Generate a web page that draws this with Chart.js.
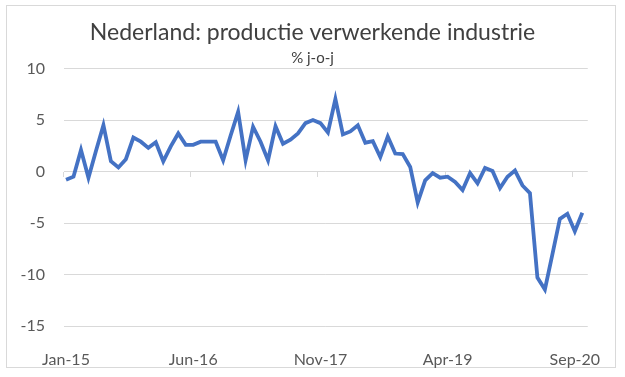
<!DOCTYPE html>
<html>
<head>
<meta charset="utf-8">
<script src="https://cdn.jsdelivr.net/npm/chart.js@4"></script>
<style>
  html, body { margin: 0; padding: 0; background: #fff; }
  #wrap { width: 625px; height: 377px; }
</style>
</head>
<body>
<div id="wrap"><canvas id="chart" width="625" height="377"></canvas></div>
<script>
// maanden jan-15 .. okt-20
const months = ['Jan','Feb','Mar','Apr','May','Jun','Jul','Aug','Sep','Oct','Nov','Dec'];
const labels = [];
for (let y = 15; y <= 20; y++) {
  for (let m = 0; m < 12; m++) {
    if (y === 20 && m > 9) break;
    labels.push(months[m] + '-' + y);
  }
}

// productie verwerkende industrie, % j-o-j
const values = [
  -0.8, -0.5, 2.1, -0.6, 2.0, 4.5, 1.0, 0.4, 1.2, 3.3,
  2.9, 2.3, 2.85, 1.0, 2.45, 3.7, 2.6, 2.6, 2.9, 2.9,
  2.9, 1.1, 3.5, 5.8, 1.1, 4.35, 2.9, 1.1, 4.4, 2.7,
  3.1, 3.7, 4.7, 5.0, 4.7, 3.8, 7.05, 3.6, 3.9, 4.5,
  2.8, 2.95, 1.4, 3.4, 1.75, 1.7, 0.45, -3.0, -0.85, -0.15,
  -0.6, -0.5, -1.0, -1.8, -0.15, -1.15, 0.35, 0.05, -1.6, -0.5,
  0.1, -1.35, -2.1, -10.3, -11.45, -8.05, -4.6, -4.1, -5.8, -4.0
];

const xTickIdx = [0, 17, 34, 51, 68];
const yTicks = [-15, -10, -5, 0, 5, 10];

const textColor = '#595959';
const fontFamily = 'Lato, "Open Sans", sans-serif';

// kader + kleine streepjes op de nul-as
const framePlugin = {
  id: 'frame',
  beforeDraw(chart) {
    const c = chart.ctx;
    c.save();
    c.fillStyle = '#fff';
    c.fillRect(0, 0, chart.width, chart.height);
    c.strokeStyle = '#d9d9d9';
    c.lineWidth = 1;
    c.strokeRect(6.5, 5.5, 609, 362);
    c.restore();
  },
  beforeDatasetsDraw(chart) {
    const c = chart.ctx, xs = chart.scales.x, ys = chart.scales.y;
    const y0 = Math.round(ys.getPixelForValue(0));
    c.save();
    c.strokeStyle = '#d9d9d9';
    c.lineWidth = 1;
    c.beginPath();
    xTickIdx.forEach(i => {
      const px = Math.round(xs.getPixelForValue(i - 0.4)) + 0.5;
      c.moveTo(px, y0);
      c.lineTo(px, y0 + 5);
    });
    c.stroke();
    c.restore();
  }
};

new Chart(document.getElementById('chart'), {
  type: 'line',
  data: {
    datasets: [{
      data: values.map((v, i) => ({ x: i, y: v })),
      borderColor: '#4472C4',
      borderWidth: 3.8,
      pointRadius: 0,
      tension: 0,
      fill: false
    }]
  },
  options: {
    responsive: false,
    animation: false,
    layout: { padding: 0 },
    plugins: {
      legend: { display: false },
      tooltip: { enabled: false },
      title: {
        display: true,
        text: 'Nederland: productie verwerkende industrie',
        color: '#404040',
        font: { family: fontFamily, size: 23, weight: 'normal' },
        padding: { top: 19, bottom: 0 }
      },
      subtitle: {
        display: true,
        text: '% j-o-j',
        color: '#404040',
        font: { family: fontFamily, size: 15, weight: 'normal' },
        padding: { top: 3, bottom: 1 }
      }
    },
    scales: {
      x: {
        type: 'linear',
        min: -0.27,
        max: 69.73,
        afterBuildTicks(scale) {
          scale.ticks = xTickIdx.map(v => ({ value: v }));
        },
        afterFit(scale) { scale.height = 51; },
        grid: { display: false, drawTicks: false },
        border: { display: false },
        ticks: {
          autoSkip: false,
          maxRotation: 0,
          padding: 24,
          color: textColor,
          font: { family: fontFamily, size: 16 },
          callback: v => labels[v]
        }
      },
      y: {
        min: -15,
        max: 10,
        afterBuildTicks(scale) {
          scale.ticks = yTicks.map(v => ({ value: v }));
        },
        afterFit(scale) { scale.width = 64; },
        grid: { color: '#d9d9d9', lineWidth: 1, drawTicks: false },
        border: { display: false },
        ticks: {
          padding: 19,
          color: textColor,
          font: { family: fontFamily, size: 16 }
        }
      },
      // lege rechter-as, alleen voor de marge rechts
      yRight: {
        position: 'right',
        min: -15,
        max: 10,
        afterFit(scale) { scale.width = 36; },
        grid: { display: false, drawTicks: false },
        border: { display: false },
        ticks: { display: false }
      }
    }
  },
  plugins: [framePlugin]
});
</script>
</body>
</html>
